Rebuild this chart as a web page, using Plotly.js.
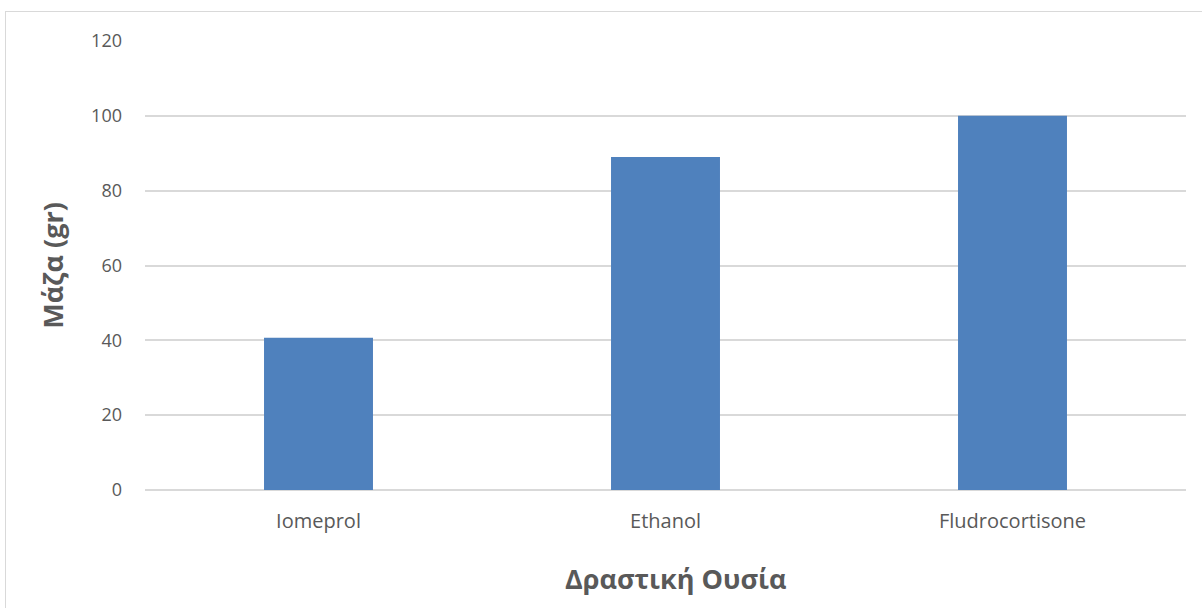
<!DOCTYPE html>
<html>
<head>
<meta charset="utf-8">
<script src="https://cdn.plot.ly/plotly-3.0.1.min.js"></script>
<style>
html,body{margin:0;padding:0;background:#fff;}
#wrap{position:relative;width:1202px;height:608px;overflow:hidden;}
#frame{position:absolute;left:5px;top:11px;width:1300px;height:700px;border-left:1px solid #d9d9d9;border-top:1px solid #d9d9d9;box-sizing:border-box;}
#chart{position:absolute;left:0;top:0;width:1202px;height:608px;}
</style>
</head>
<body>
<div id="wrap"><div id="frame"></div><div id="chart"></div></div>
<script>
const categories = ["Iomeprol", "Ethanol", "Fludrocortisone"];
const masses = [40.7, 89, 100];
const yTicks = [0, 20, 40, 60, 80, 100, 120];
const xTitle = "Δραστική Ουσία";
const yTitle = "Μάζα (gr)";

const trace = {
  type: "bar",
  x: categories,
  y: masses,
  marker: {color: "#4f81bd"},
  hoverinfo: "x+y"
};

const layout = {
  width: 1202,
  height: 608,
  margin: {l: 145, r: 16, t: 41, b: 117.5},
  paper_bgcolor: "rgba(0,0,0,0)",
  plot_bgcolor: "rgba(0,0,0,0)",
  bargap: 0.686,
  showlegend: false,
  font: {family: "'Open Sans', sans-serif", color: "#595959"},
  xaxis: {
    showline: false,
    showgrid: false,
    zeroline: false,
    ticks: "",
    tickfont: {size: 20, color: "#595959"},
    ticklabelstandoff: 17
  },
  yaxis: {
    range: [0, 120],
    tickvals: yTicks,
    ticktext: yTicks.map(String),
    showgrid: true,
    gridcolor: "#d9d9d9",
    gridwidth: 1.5,
    zeroline: true,
    zerolinecolor: "#d9d9d9",
    zerolinewidth: 1.5,
    showline: false,
    ticks: "",
    tickfont: {size: 18, color: "#595959"},
    ticklabelstandoff: 22,
    title: {text: yTitle, font: {size: 27, color: "#595959", weight: "bold"}, standoff: 19}
  },
  annotations: [{
    text: xTitle,
    xref: "paper", yref: "paper",
    x: 0.51, y: -0.198,
    xanchor: "center", yanchor: "middle",
    showarrow: false,
    font: {size: 27, color: "#595959", weight: "bold"}
  }]
};

Plotly.newPlot("chart", [trace], layout, {displayModeBar: false});
</script>
</body>
</html>
